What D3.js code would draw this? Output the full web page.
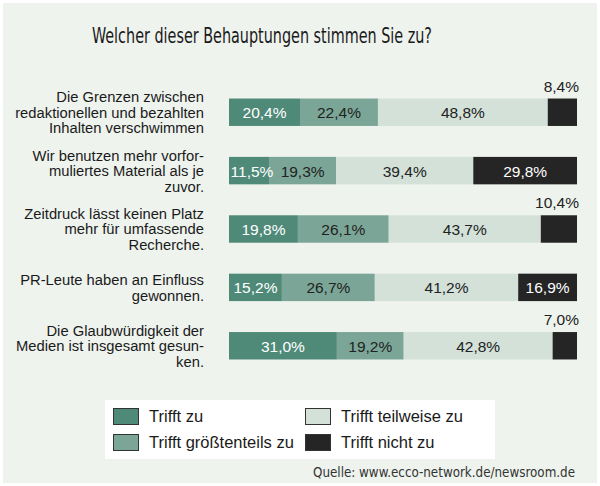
<!DOCTYPE html>
<html><head><meta charset="utf-8">
<script src="https://cdn.jsdelivr.net/npm/d3@7"></script>
<style>body{margin:0;background:#fff}svg{display:block}</style>
</head><body>
<script>
const questions = [
  ["Die Grenzen zwischen","redaktionellen und bezahlten","Inhalten verschwimmen"],
  ["Wir benutzen mehr vorfor-","muliertes Material als je","zuvor."],
  ["Zeitdruck lässt keinen Platz","mehr für umfassende","Recherche."],
  ["PR-Leute haben an Einfluss","gewonnen."],
  ["Die Glaubwürdigkeit der","Medien ist insgesamt gesun-","ken."]
];
const seriesNames = ["Trifft zu","Trifft größtenteils zu","Trifft teilweise zu","Trifft nicht zu"];
const triffZu = [20.4, 11.5, 19.8, 15.2, 31.0];
const groesstenteils = [22.4, 19.3, 26.1, 26.7, 19.2];
const teilweise = [48.8, 39.4, 43.7, 41.2, 42.8];
const nicht = [8.4, 29.8, 10.4, 16.9, 7.0];
const colors = ["#4f8a78","#7ba697","#d3e1d8","#252525"];
const textColors = ["#ffffff","#222222","#222222","#ffffff"];
const title = "Welcher dieser Behauptungen stimmen Sie zu?";
const source = "Quelle: www.ecco-network.de/newsroom.de";

const W = 600, H = 486;
const sans = "'Liberation Sans', Arial, Helvetica, sans-serif";
const narrow = "'Liberation Sans Narrow', 'DejaVu Sans Condensed', sans-serif";
const svg = d3.select("body").append("svg").attr("width", W).attr("height", H);
svg.append("rect").attr("x",3).attr("y",3).attr("width",594).attr("height",480).attr("fill","#eef3ee");

svg.append("text").attr("x",92).attr("y",43)
  .attr("font-family",narrow).attr("font-size",21).attr("fill","#1a1a1a")
  .attr("textLength",340).attr("lengthAdjust","spacingAndGlyphs").text(title);

const values = [triffZu, groesstenteils, teilweise, nicht];
const rows = questions.map((q,i)=>({q, vals: values.map(v=>v[i])}));
const stack = rows.map(r=>{let c=0; return r.vals.map((v,k)=>{const s={x0:c,x1:c+v,v,k}; c+=v; return s;});});

const x = d3.scaleLinear().domain([0,100]).range([229,577]);
const y = d3.scaleBand().domain(d3.range(rows.length)).range([74,384]).paddingInner(0.53).paddingOuter(0.42);

// measure label font to fit reference width of longest line
const labelSize = 15;
const probe = svg.append("text").attr("font-family",sans).attr("font-size",labelSize).text(questions[0][1]);
const sx = 189 / probe.node().getComputedTextLength();
probe.remove();

const labelX = 204;
const g = svg.append("g");
rows.forEach((r,i)=>{
  const yy = y(i), bh = y.bandwidth();
  const row = g.append("g");
  row.selectAll("rect").data(stack[i]).join("rect")
    .attr("x",d=>x(d.x0)).attr("y",yy).attr("width",d=>x(d.x1)-x(d.x0)).attr("height",bh)
    .attr("fill",d=>colors[d.k]);
  stack[i].forEach(d=>{
    const fmt = d.v.toFixed(1).replace(".",",")+"%";
    if (d.v >= 11) {
      row.append("text").attr("x",(x(d.x0)+x(d.x1))/2 + (d.v<13?3:0)).attr("y",yy+bh/2+6)
        .attr("text-anchor","middle").attr("font-family",sans)
        .attr("font-size",15.5).attr("fill",textColors[d.k]).text(fmt);
    } else {
      row.append("text").attr("x",x(100)+2).attr("y",yy-7)
        .attr("text-anchor","end").attr("font-family",sans)
        .attr("font-size",15.5).attr("fill","#222").text(fmt);
    }
  });
  const n = r.q.length, lh = 15.5;
  const t = row.append("text").attr("text-anchor","end").attr("font-family",sans)
    .attr("font-size",labelSize).attr("fill","#1a1a1a")
    .attr("transform",`translate(${labelX},0) scale(${sx},1)`);
  r.q.forEach((line,j)=>{
    t.append("tspan").attr("x",0).attr("y", yy+bh/2 + 5.5 + (j-(n-1)/2)*lh).text(line);
  });
});

// legend
const leg = svg.append("g");
leg.append("rect").attr("x",105).attr("y",400).attr("width",390).attr("height",59).attr("fill","#ffffff");
const legPos = [[113,408],[113,434],[305,408],[305,434]];
seriesNames.forEach((s,k)=>{
  const [lx,ly] = legPos[k];
  leg.append("rect").attr("x",lx+0.5).attr("y",ly+0.5).attr("width",25).attr("height",16)
    .attr("fill",colors[k]).attr("stroke","#333").attr("stroke-width",1);
  leg.append("text").attr("x",lx+36).attr("y",ly+14).attr("font-family",sans)
    .attr("font-size",16.5).attr("fill","#1a1a1a").text(s);
});

svg.append("text").attr("x",313).attr("y",477)
  .attr("font-family",narrow).attr("font-size",14).attr("fill","#333")
  .attr("textLength",262).attr("lengthAdjust","spacingAndGlyphs").text(source);
</script>
</body></html>
